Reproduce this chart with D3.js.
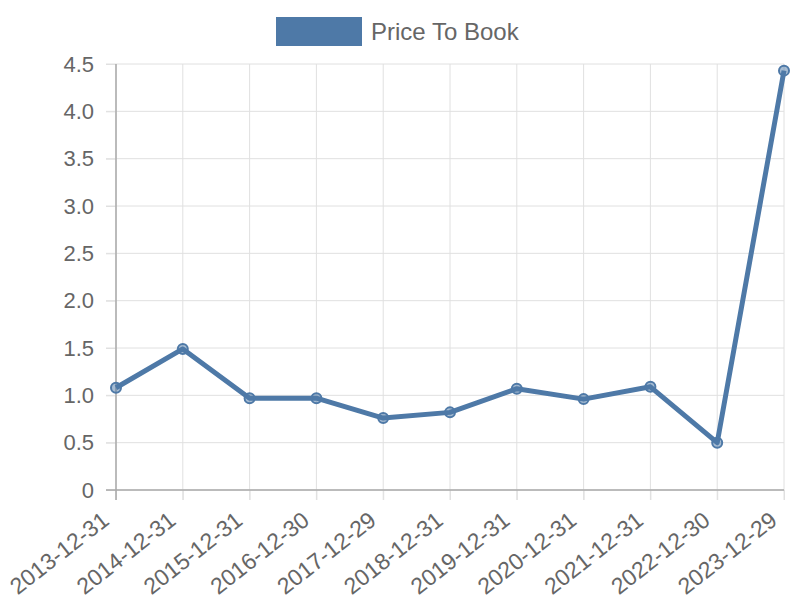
<!DOCTYPE html>
<html>
<head>
<meta charset="utf-8">
<script src="https://cdn.jsdelivr.net/npm/d3@7"></script>
<style>
  body { margin: 0; background: #fff; }
  text { font-family: "Liberation Sans", Arial, sans-serif; fill: #666; }
</style>
</head>
<body>
<div id="chart"></div>
<script>
// data
const dates = ["2013-12-31", "2014-12-31", "2015-12-31", "2016-12-30", "2017-12-29",
    "2018-12-31", "2019-12-31", "2020-12-31", "2021-12-31", "2022-12-30", "2023-12-29"];
const priceToBook = [1.08, 1.49, 0.97, 0.97, 0.76, 0.82, 1.07, 0.96, 1.09, 0.50, 4.43];
const yTicks = [0, 0.5, 1, 1.5, 2, 2.5, 3, 3.5, 4, 4.5];
const seriesName = "Price To Book";

const width = 800, height = 600;
const margin = { top: 64, right: 16, bottom: 110, left: 116 };
const color = "#4e79a7";

const svg = d3.select("#chart").append("svg")
    .attr("width", width)
    .attr("height", height);

const xScale = d3.scalePoint()
    .domain(dates)
    .range([margin.left, width - margin.right]);

const yScale = d3.scaleLinear()
    .domain([0, 4.5])
    .range([height - margin.bottom, margin.top]);

// grid
svg.append("g")
    .selectAll("line")
    .data(yTicks)
    .join("line")
    .attr("x1", margin.left - 10)
    .attr("x2", width - margin.right)
    .attr("y1", d => yScale(d))
    .attr("y2", d => yScale(d))
    .attr("stroke", "#e0e0e0")
    .attr("stroke-width", 1);

svg.append("g")
    .selectAll("line")
    .data(dates)
    .join("line")
    .attr("x1", d => xScale(d))
    .attr("x2", d => xScale(d))
    .attr("y1", margin.top)
    .attr("y2", height - margin.bottom + 10)
    .attr("stroke", "#e0e0e0")
    .attr("stroke-width", 1);

// axes
const yAxis = d3.axisLeft(yScale).tickValues(yTicks).tickSize(10).tickPadding(12)
    .tickFormat(d => d === 0 ? "0" : d3.format(".1f")(d));
const gy = svg.append("g")
    .attr("transform", `translate(${margin.left},0)`)
    .call(yAxis);
gy.select(".domain").remove();
gy.selectAll(".tick line").attr("stroke", "#e0e0e0");
gy.selectAll("text").attr("font-size", 22).style("fill", "#666");

const xAxis = d3.axisBottom(xScale).tickSize(10);
const gx = svg.append("g")
    .attr("transform", `translate(0,${height - margin.bottom})`)
    .call(xAxis);
gx.select(".domain").remove();
gx.selectAll(".tick line").attr("stroke", "#e0e0e0");
gx.selectAll("text")
    .attr("font-size", 23)
    .style("fill", "#666")
    .attr("text-anchor", "end")
    .attr("y", 0)
    .attr("dy", 0)
    .attr("transform", "translate(-6,33) rotate(-38)");

// axis lines
svg.append("line")
    .attr("x1", margin.left).attr("x2", margin.left)
    .attr("y1", margin.top).attr("y2", height - margin.bottom + 10)
    .attr("stroke", "#aaa").attr("stroke-width", 1.5);
svg.append("line")
    .attr("x1", margin.left - 10).attr("x2", width - margin.right)
    .attr("y1", yScale(0)).attr("y2", yScale(0))
    .attr("stroke", "#aaa").attr("stroke-width", 1.5);

// line
const data = dates.map((d, i) => ({ date: d, value: priceToBook[i] }));
const lineFunc = d3.line()
    .x(d => xScale(d.date))
    .y(d => yScale(d.value));

svg.append("path")
    .datum(data)
    .attr("fill", "none")
    .attr("stroke", color)
    .attr("stroke-width", 5)
    .attr("stroke-linejoin", "round")
    .attr("d", lineFunc);

svg.append("g")
    .selectAll("circle")
    .data(data)
    .join("circle")
    .attr("cx", d => xScale(d.date))
    .attr("cy", d => yScale(d.value))
    .attr("r", 5)
    .attr("fill", "rgba(78,121,167,0.5)")
    .attr("stroke", color)
    .attr("stroke-width", 2);

// legend
svg.append("rect")
    .attr("x", 276).attr("y", 17)
    .attr("width", 86).attr("height", 29)
    .attr("fill", color);
svg.append("text")
    .attr("x", 371).attr("y", 32)
    .attr("dy", "0.35em")
    .attr("font-size", 24)
    .text(seriesName);
</script>
</body>
</html>
